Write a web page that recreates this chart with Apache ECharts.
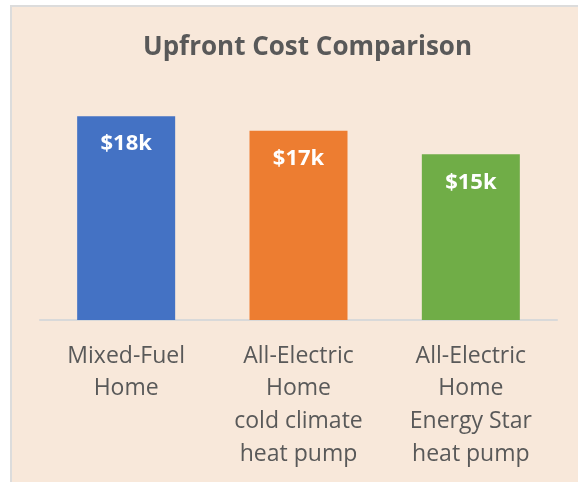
<!DOCTYPE html>
<html>
<head>
<meta charset="utf-8">
<script src="https://cdn.jsdelivr.net/npm/echarts@6/dist/echarts.min.js"></script>
<style>
  html, body { margin: 0; padding: 0; background: #ffffff; }
  #chart { width: 578px; height: 482px; }
</style>
</head>
<body>
<div id="chart"></div>
<script>
// upfront cost in thousands of dollars
const categories = [
    'Mixed-Fuel\nHome',
    'All-Electric\nHome\ncold climate\nheat pump',
    'All-Electric\nHome\nEnergy Star\nheat pump'
];
const costs = [18.2, 16.9, 14.8];
const barColors = ['#4472C4', '#ED7D31', '#70AD47'];

var dom = document.getElementById('chart');
var myChart = echarts.init(dom);

var option = {
    backgroundColor: '#ffffff',
    animation: false,
    graphic: [{
        type: 'rect',
        z: -10,
        silent: true,
        shape: { x: 11, y: 6, width: 600, height: 500 },
        style: { fill: '#F8E8DA', stroke: '#DCDCDC', lineWidth: 2 }
    }],
    title: {
        text: 'Upfront Cost Comparison',
        left: 138,
        top: 30,
        textStyle: {
            fontFamily: 'Open Sans',
            fontWeight: 'bold',
            fontSize: 26,
            color: '#595959'
        }
    },
    grid: {
        left: 40,
        right: 21,
        top: 96,
        bottom: 162
    },
    xAxis: {
        type: 'category',
        data: categories,
        axisLine: { lineStyle: { color: '#D9D9D9', width: 2 } },
        axisTick: { show: false },
        axisLabel: {
            margin: 20,
            fontFamily: 'Open Sans',
            fontSize: 23,
            lineHeight: 32.6,
            color: '#595959'
        }
    },
    yAxis: {
        type: 'value',
        min: 0,
        max: 20,
        show: false,
        splitLine: { show: false }
    },
    series: [{
        type: 'bar',
        barWidth: 98,
        data: costs.map((v, i) => ({ value: v, itemStyle: { color: barColors[i] } })),
        label: {
            show: true,
            position: 'insideTop',
            distance: 17,
            formatter: (p) => '$' + Math.round(p.value) + 'k',
            fontFamily: 'Open Sans',
            fontWeight: 'bold',
            fontSize: 22,
            color: '#ffffff'
        }
    }]
};

myChart.setOption(option);
window.addEventListener('resize', myChart.resize);
</script>
</body>
</html>
